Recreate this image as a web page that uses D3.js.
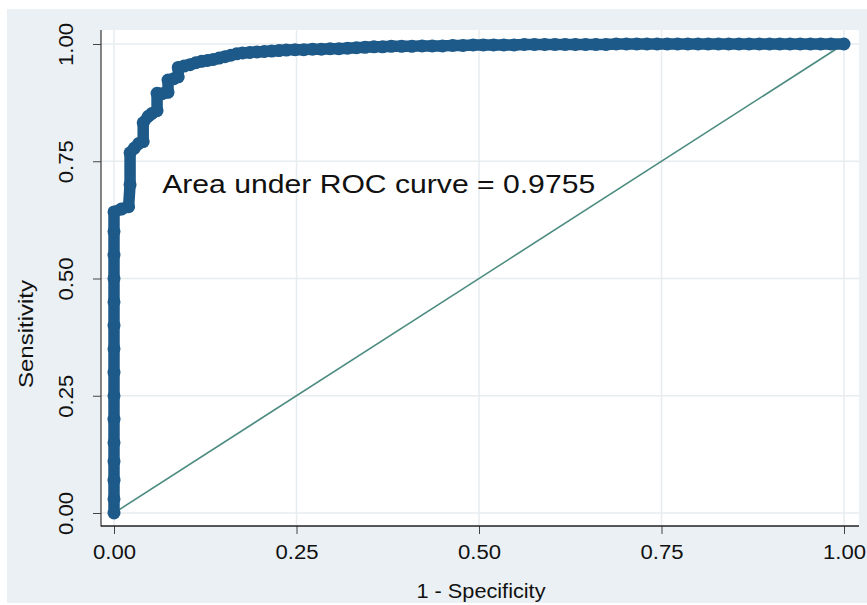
<!DOCTYPE html>
<html>
<head>
<meta charset="utf-8">
<script src="https://cdn.jsdelivr.net/npm/d3@7"></script>
<style>
  body { margin: 0; background: #fff; }
  svg { display: block; font-family: "Liberation Sans", Arial, sans-serif; }
</style>
</head>
<body>
<div class="chart"></div>
<script>
// ROC points: 1 - specificity and sensitivity
const fpr = [
  0, 0, 0, 0, 0, 0, 0, 0, 0, 0, 0, 0, 0, 0, 0,
  0.010, 0.020, 0.022, 0.022, 0.028, 0.034, 0.040, 0.040, 0.047, 0.052,
  0.059, 0.059, 0.066, 0.074, 0.074, 0.082, 0.088, 0.088, 0.096, 0.104,
  0.112, 0.120, 0.128, 0.136, 0.144, 0.152, 0.160, 0.168, 0.176, 0.186,
  0.196, 0.206, 0.216, 0.226, 0.236, 0.248, 0.260, 0.272, 0.284, 0.296,
  0.308, 0.320, 0.332, 0.344, 0.356, 0.368, 0.380, 0.394, 0.408, 0.422,
  0.436, 0.450, 0.464, 0.478, 0.492, 0.506, 0.520, 0.534, 0.548, 0.562,
  0.576, 0.590, 0.604, 0.618, 0.632, 0.646, 0.660, 0.674, 0.688, 0.702,
  0.716, 0.730, 0.744, 0.758, 0.772, 0.786, 0.800, 0.814, 0.828, 0.842,
  0.856, 0.870, 0.884, 0.898, 0.912, 0.926, 0.940, 0.954, 0.968, 0.982, 1.000
]
const tpr = [
  0, 0.03, 0.07, 0.11, 0.15, 0.20, 0.25, 0.30, 0.35, 0.40, 0.45, 0.50, 0.55, 0.60, 0.642,
  0.648, 0.653, 0.700, 0.768, 0.778, 0.788, 0.792, 0.832, 0.846, 0.852,
  0.858, 0.895, 0.894, 0.897, 0.923, 0.926, 0.930, 0.950, 0.953, 0.956,
  0.960, 0.963, 0.965, 0.967, 0.970, 0.973, 0.976, 0.979, 0.981, 0.982,
  0.983, 0.984, 0.985, 0.986, 0.987, 0.988, 0.988, 0.989, 0.989, 0.990,
  0.990, 0.991, 0.992, 0.993, 0.994, 0.994, 0.995, 0.995, 0.995, 0.996,
  0.996, 0.996, 0.997, 0.997, 0.998, 0.998, 0.998, 0.998, 0.998, 0.999,
  0.999, 0.999, 0.999, 0.999, 0.999, 0.999, 0.999, 0.999, 1, 1,
  1, 1, 1, 1, 1, 1, 1, 1, 1, 1,
  1, 1, 1, 1, 1, 1, 1, 1, 1, 1, 1
]
const refLine = [[0, 0], [1, 1]]
const tickValues = [0, 0.25, 0.5, 0.75, 1]
const aucLabel = 'Area under ROC curve = 0.9755'
const xTitle = '1 - Specificity'
const yTitle = 'Sensitivity'

document.addEventListener('DOMContentLoaded', start)

function start () {
  const svg = d3.select('.chart')
    .append('svg')
    .attr('width', 867)
    .attr('height', 605)

  // outer grey panel and white plot region
  svg.append('rect')
    .attr('x', 7).attr('y', 9)
    .attr('width', 860).attr('height', 594)
    .attr('fill', '#eaf0f3')
  svg.append('rect')
    .attr('x', 101).attr('y', 30)
    .attr('width', 758).attr('height', 496)
    .attr('fill', '#fff')

  const x = d3.scaleLinear().domain([0, 1]).range([114, 844])
  const y = d3.scaleLinear().domain([0, 1]).range([513, 44])

  drawGrid(svg, x, y)
  drawAxes(svg, x, y)
  drawCurve(svg, x, y)

  svg.append('text')
    .attr('x', x(0.066))
    .attr('y', y(0.682))
    .attr('font-size', 26.5)
    .attr('textLength', 433)
    .attr('lengthAdjust', 'spacingAndGlyphs')
    .attr('fill', '#111')
    .text(aucLabel)
}

function drawGrid (svg, x, y) {
  const g = svg.append('g').attr('class', 'grid')
  g.selectAll('.vgrid')
    .data(tickValues)
    .enter().append('line')
    .attr('x1', d => x(d)).attr('x2', d => x(d))
    .attr('y1', 30).attr('y2', 526)
  g.selectAll('.hgrid')
    .data(tickValues)
    .enter().append('line')
    .attr('x1', 101).attr('x2', 859)
    .attr('y1', d => y(d)).attr('y2', d => y(d))
  g.selectAll('line')
    .attr('stroke', '#e7ecef')
    .attr('stroke-width', 1.5)
}

function drawAxes (svg, x, y) {
  const fmt = d3.format('.2f')

  const xAxis = svg.append('g')
    .attr('transform', 'translate(0,526)')
    .call(d3.axisBottom(x).tickValues(tickValues).tickFormat(fmt).tickSize(8).tickPadding(6))
  xAxis.select('.domain').remove()
  xAxis.selectAll('.tick line').attr('stroke', '#444')
  xAxis.selectAll('.tick text')
    .attr('font-size', 20)
    .attr('fill', '#111')
    .attr('dy', null)
    .attr('y', 33)
    .attr('textLength', 43)
    .attr('lengthAdjust', 'spacingAndGlyphs')

  const yAxis = svg.append('g')
    .attr('transform', 'translate(101,0)')
    .call(d3.axisLeft(y).tickValues(tickValues).tickFormat(fmt).tickSize(8))
  yAxis.select('.domain').remove()
  yAxis.selectAll('.tick line').attr('stroke', '#444')
  yAxis.selectAll('.tick text')
    .attr('font-size', 20)
    .attr('fill', '#111')
    .attr('x', null).attr('dy', null)
    .attr('text-anchor', 'middle')
    .attr('transform', 'translate(-28,0) rotate(-90)')
    .attr('textLength', 43)
    .attr('lengthAdjust', 'spacingAndGlyphs')

  // axis lines
  svg.append('line')
    .attr('x1', 101).attr('x2', 101).attr('y1', 30).attr('y2', 526.5)
    .attr('stroke', '#444').attr('stroke-width', 1.3)
  svg.append('line')
    .attr('x1', 101).attr('x2', 859).attr('y1', 526).attr('y2', 526)
    .attr('stroke', '#222').attr('stroke-width', 1.3)

  svg.append('text')
    .attr('x', 481).attr('y', 598)
    .attr('text-anchor', 'middle')
    .attr('font-size', 21)
    .attr('textLength', 129)
    .attr('lengthAdjust', 'spacingAndGlyphs')
    .attr('fill', '#111')
    .text(xTitle)

  svg.append('text')
    .attr('transform', 'translate(33,334) rotate(-90)')
    .attr('text-anchor', 'middle')
    .attr('font-size', 21)
    .attr('textLength', 108)
    .attr('lengthAdjust', 'spacingAndGlyphs')
    .attr('fill', '#111')
    .text(yTitle)
}

function drawCurve (svg, x, y) {
  const points = fpr.map((d, i) => [d, tpr[i]])

  svg.append('path')
    .datum(refLine)
    .attr('d', d3.line().x(d => x(d[0])).y(d => y(d[1])))
    .attr('fill', 'none')
    .attr('stroke', '#4b8b7f')
    .attr('stroke-width', 1.6)

  svg.append('path')
    .datum(points)
    .attr('d', d3.line().x(d => x(d[0])).y(d => y(d[1])))
    .attr('fill', 'none')
    .attr('stroke', '#1d5a89')
    .attr('stroke-width', 11.5)
    .attr('stroke-linejoin', 'round')

  svg.append('g')
    .selectAll('.marker')
    .data(points)
    .enter().append('circle')
    .attr('class', 'marker')
    .attr('cx', d => x(d[0]))
    .attr('cy', d => y(d[1]))
    .attr('r', 6.5)
    .attr('fill', '#1d5a89')
}
</script>
</body>
</html>
